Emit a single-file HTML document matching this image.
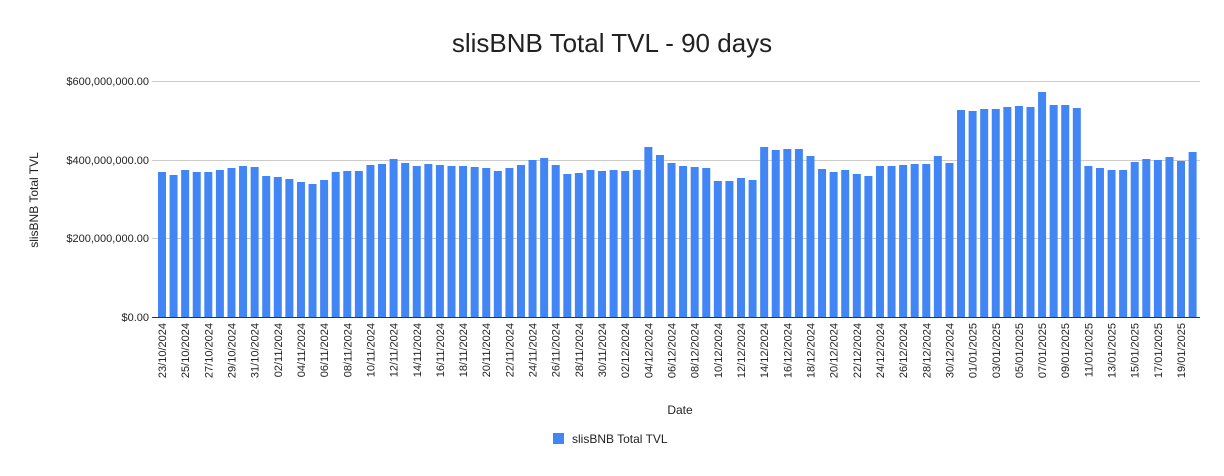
<!DOCTYPE html>
<html><head><meta charset="utf-8"><style>body{margin:0;background:#fff}</style></head>
<body>
<svg width="1224" height="471" xmlns="http://www.w3.org/2000/svg" font-family="Liberation Sans, Arial, sans-serif">
<rect width="1224" height="471" fill="#fff"/>
<text x="612" y="52" font-size="26" text-anchor="middle" fill="#222">slisBNB Total TVL - 90 days</text>
<g stroke="#cccccc" stroke-width="1">
<line x1="152" x2="1200" y1="81.5" y2="81.5"/>
<line x1="152" x2="1200" y1="160.5" y2="160.5"/>
<line x1="152" x2="1200" y1="238.5" y2="238.5"/>
</g>
<g font-size="11" fill="#222" text-anchor="end">
<text x="149" y="85">$600,000,000.00</text>
<text x="149" y="164">$400,000,000.00</text>
<text x="149" y="242">$200,000,000.00</text>
<text x="149" y="321">$0.00</text>
</g>
<text transform="translate(38,200) rotate(-90)" font-size="12" text-anchor="middle" fill="#222">slisBNB Total TVL</text>
<g transform="translate(158,0) scale(11.58,1)" fill="#4285f4">
<rect x="0" y="172" width="0.69" height="145"/>
<rect x="1" y="175" width="0.69" height="142"/>
<rect x="2" y="170" width="0.69" height="147"/>
<rect x="3" y="172" width="0.69" height="145"/>
<rect x="4" y="172" width="0.69" height="145"/>
<rect x="5" y="170" width="0.69" height="147"/>
<rect x="6" y="168" width="0.69" height="149"/>
<rect x="7" y="166" width="0.69" height="151"/>
<rect x="8" y="167" width="0.69" height="150"/>
<rect x="9" y="176" width="0.69" height="141"/>
<rect x="10" y="177" width="0.69" height="140"/>
<rect x="11" y="179" width="0.69" height="138"/>
<rect x="12" y="182" width="0.69" height="135"/>
<rect x="13" y="184" width="0.69" height="133"/>
<rect x="14" y="180" width="0.69" height="137"/>
<rect x="15" y="172" width="0.69" height="145"/>
<rect x="16" y="171" width="0.69" height="146"/>
<rect x="17" y="171" width="0.69" height="146"/>
<rect x="18" y="165" width="0.69" height="152"/>
<rect x="19" y="164" width="0.69" height="153"/>
<rect x="20" y="159" width="0.69" height="158"/>
<rect x="21" y="163" width="0.69" height="154"/>
<rect x="22" y="166" width="0.69" height="151"/>
<rect x="23" y="164" width="0.69" height="153"/>
<rect x="24" y="165" width="0.69" height="152"/>
<rect x="25" y="166" width="0.69" height="151"/>
<rect x="26" y="166" width="0.69" height="151"/>
<rect x="27" y="167" width="0.69" height="150"/>
<rect x="28" y="168" width="0.69" height="149"/>
<rect x="29" y="171" width="0.69" height="146"/>
<rect x="30" y="168" width="0.69" height="149"/>
<rect x="31" y="165" width="0.69" height="152"/>
<rect x="32" y="160" width="0.69" height="157"/>
<rect x="33" y="158" width="0.69" height="159"/>
<rect x="34" y="165" width="0.69" height="152"/>
<rect x="35" y="174" width="0.69" height="143"/>
<rect x="36" y="173" width="0.69" height="144"/>
<rect x="37" y="170" width="0.69" height="147"/>
<rect x="38" y="171" width="0.69" height="146"/>
<rect x="39" y="170" width="0.69" height="147"/>
<rect x="40" y="171" width="0.69" height="146"/>
<rect x="41" y="170" width="0.69" height="147"/>
<rect x="42" y="147" width="0.69" height="170"/>
<rect x="43" y="155" width="0.69" height="162"/>
<rect x="44" y="163" width="0.69" height="154"/>
<rect x="45" y="166" width="0.69" height="151"/>
<rect x="46" y="167" width="0.69" height="150"/>
<rect x="47" y="168" width="0.69" height="149"/>
<rect x="48" y="181" width="0.69" height="136"/>
<rect x="49" y="181" width="0.69" height="136"/>
<rect x="50" y="178" width="0.69" height="139"/>
<rect x="51" y="180" width="0.69" height="137"/>
<rect x="52" y="147" width="0.69" height="170"/>
<rect x="53" y="150" width="0.69" height="167"/>
<rect x="54" y="149" width="0.69" height="168"/>
<rect x="55" y="149" width="0.69" height="168"/>
<rect x="56" y="156" width="0.69" height="161"/>
<rect x="57" y="169" width="0.69" height="148"/>
<rect x="58" y="172" width="0.69" height="145"/>
<rect x="59" y="170" width="0.69" height="147"/>
<rect x="60" y="174" width="0.69" height="143"/>
<rect x="61" y="176" width="0.69" height="141"/>
<rect x="62" y="166" width="0.69" height="151"/>
<rect x="63" y="166" width="0.69" height="151"/>
<rect x="64" y="165" width="0.69" height="152"/>
<rect x="65" y="164" width="0.69" height="153"/>
<rect x="66" y="164" width="0.69" height="153"/>
<rect x="67" y="156" width="0.69" height="161"/>
<rect x="68" y="163" width="0.69" height="154"/>
<rect x="69" y="110" width="0.69" height="207"/>
<rect x="70" y="111" width="0.69" height="206"/>
<rect x="71" y="109" width="0.69" height="208"/>
<rect x="72" y="109" width="0.69" height="208"/>
<rect x="73" y="107" width="0.69" height="210"/>
<rect x="74" y="106" width="0.69" height="211"/>
<rect x="75" y="107" width="0.69" height="210"/>
<rect x="76" y="92" width="0.69" height="225"/>
<rect x="77" y="105" width="0.69" height="212"/>
<rect x="78" y="105" width="0.69" height="212"/>
<rect x="79" y="108" width="0.69" height="209"/>
<rect x="80" y="166" width="0.69" height="151"/>
<rect x="81" y="168" width="0.69" height="149"/>
<rect x="82" y="170" width="0.69" height="147"/>
<rect x="83" y="170" width="0.69" height="147"/>
<rect x="84" y="162" width="0.69" height="155"/>
<rect x="85" y="159" width="0.69" height="158"/>
<rect x="86" y="160" width="0.69" height="157"/>
<rect x="87" y="157" width="0.69" height="160"/>
<rect x="88" y="161" width="0.69" height="156"/>
<rect x="89" y="152" width="0.69" height="165"/>
</g>
<line x1="152" x2="1200" y1="317.5" y2="317.5" stroke="#333" stroke-width="1"/>
<g font-size="11" fill="#222" text-anchor="end">
<text transform="translate(166,323) rotate(-90)">23/10/2024</text>
<text transform="translate(189.2,323) rotate(-90)">25/10/2024</text>
<text transform="translate(212.3,323) rotate(-90)">27/10/2024</text>
<text transform="translate(235.5,323) rotate(-90)">29/10/2024</text>
<text transform="translate(258.6,323) rotate(-90)">31/10/2024</text>
<text transform="translate(281.8,323) rotate(-90)">02/11/2024</text>
<text transform="translate(305,323) rotate(-90)">04/11/2024</text>
<text transform="translate(328.1,323) rotate(-90)">06/11/2024</text>
<text transform="translate(351.3,323) rotate(-90)">08/11/2024</text>
<text transform="translate(374.4,323) rotate(-90)">10/11/2024</text>
<text transform="translate(397.6,323) rotate(-90)">12/11/2024</text>
<text transform="translate(420.8,323) rotate(-90)">14/11/2024</text>
<text transform="translate(443.9,323) rotate(-90)">16/11/2024</text>
<text transform="translate(467.1,323) rotate(-90)">18/11/2024</text>
<text transform="translate(490.2,323) rotate(-90)">20/11/2024</text>
<text transform="translate(513.4,323) rotate(-90)">22/11/2024</text>
<text transform="translate(536.6,323) rotate(-90)">24/11/2024</text>
<text transform="translate(559.7,323) rotate(-90)">26/11/2024</text>
<text transform="translate(582.9,323) rotate(-90)">28/11/2024</text>
<text transform="translate(606,323) rotate(-90)">30/11/2024</text>
<text transform="translate(629.2,323) rotate(-90)">02/12/2024</text>
<text transform="translate(652.4,323) rotate(-90)">04/12/2024</text>
<text transform="translate(675.5,323) rotate(-90)">06/12/2024</text>
<text transform="translate(698.7,323) rotate(-90)">08/12/2024</text>
<text transform="translate(721.8,323) rotate(-90)">10/12/2024</text>
<text transform="translate(745,323) rotate(-90)">12/12/2024</text>
<text transform="translate(768.2,323) rotate(-90)">14/12/2024</text>
<text transform="translate(791.3,323) rotate(-90)">16/12/2024</text>
<text transform="translate(814.5,323) rotate(-90)">18/12/2024</text>
<text transform="translate(837.6,323) rotate(-90)">20/12/2024</text>
<text transform="translate(860.8,323) rotate(-90)">22/12/2024</text>
<text transform="translate(884,323) rotate(-90)">24/12/2024</text>
<text transform="translate(907.1,323) rotate(-90)">26/12/2024</text>
<text transform="translate(930.3,323) rotate(-90)">28/12/2024</text>
<text transform="translate(953.4,323) rotate(-90)">30/12/2024</text>
<text transform="translate(976.6,323) rotate(-90)">01/01/2025</text>
<text transform="translate(999.8,323) rotate(-90)">03/01/2025</text>
<text transform="translate(1022.9,323) rotate(-90)">05/01/2025</text>
<text transform="translate(1046.1,323) rotate(-90)">07/01/2025</text>
<text transform="translate(1069.2,323) rotate(-90)">09/01/2025</text>
<text transform="translate(1092.4,323) rotate(-90)">11/01/2025</text>
<text transform="translate(1115.6,323) rotate(-90)">13/01/2025</text>
<text transform="translate(1138.7,323) rotate(-90)">15/01/2025</text>
<text transform="translate(1161.9,323) rotate(-90)">17/01/2025</text>
<text transform="translate(1185,323) rotate(-90)">19/01/2025</text>
</g>
<text x="680" y="414" font-size="12" text-anchor="middle" fill="#222">Date</text>
<rect x="553" y="433" width="11" height="11" fill="#4285f4"/>
<text x="572" y="443" font-size="12" fill="#222">slisBNB Total TVL</text>
</svg>
</body></html>
